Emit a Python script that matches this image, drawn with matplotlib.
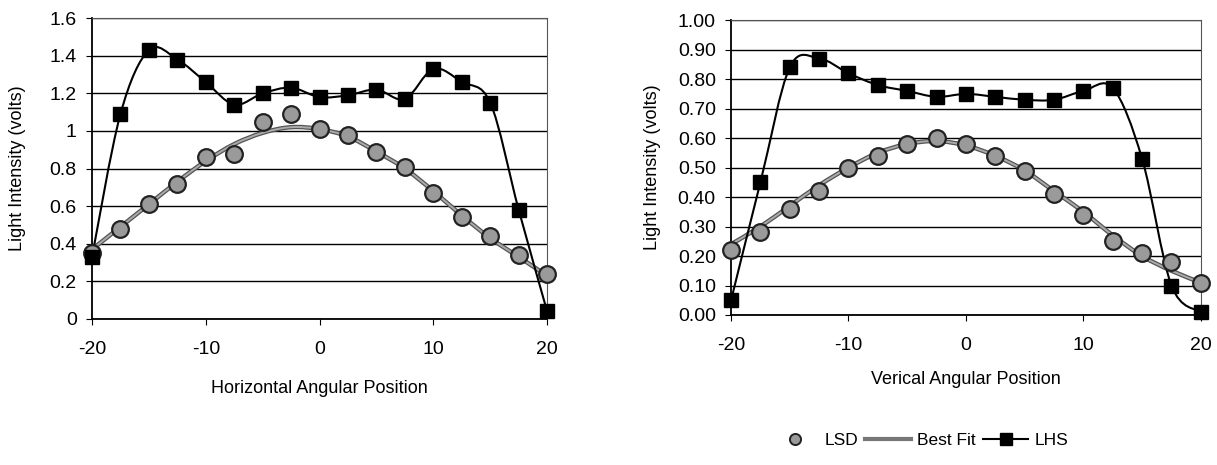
import numpy as np
import matplotlib.pyplot as plt
from matplotlib.path import Path
from matplotlib.patches import PathPatch
from matplotlib.lines import Line2D

plt.rcParams['font.family'] = ['Liberation Sans', 'DejaVu Sans']
plt.rcParams['axes.unicode_minus'] = False

# angular positions (degrees)
pos = [-20, -17.5, -15, -12.5, -10, -7.5, -5, -2.5, 0, 2.5, 5, 7.5, 10, 12.5, 15, 17.5, 20]

# horizontal scan
h_lhs = [0.33, 1.09, 1.43, 1.38, 1.26, 1.14, 1.20, 1.23, 1.18, 1.19, 1.22, 1.17, 1.33, 1.26, 1.15, 0.58, 0.04]
h_lsd = [0.35, 0.48, 0.61, 0.72, 0.86, 0.88, 1.05, 1.09, 1.01, 0.98, 0.89, 0.81, 0.67, 0.54, 0.44, 0.34, 0.24]
h_fit = [0.37, 0.49, 0.61, 0.73, 0.84, 0.93, 0.99, 1.02, 1.01, 0.97, 0.89, 0.80, 0.68, 0.55, 0.43, 0.33, 0.23]

# vertical scan
v_lhs = [0.05, 0.45, 0.84, 0.87, 0.82, 0.78, 0.76, 0.74, 0.75, 0.74, 0.73, 0.73, 0.76, 0.77, 0.53, 0.10, 0.01]
v_lsd = [0.22, 0.28, 0.36, 0.42, 0.50, 0.54, 0.58, 0.60, 0.58, 0.54, 0.49, 0.41, 0.34, 0.25, 0.21, 0.18, 0.11]
v_fit = [0.24, 0.30, 0.37, 0.44, 0.50, 0.55, 0.58, 0.59, 0.575, 0.54, 0.49, 0.42, 0.35, 0.27, 0.20, 0.15, 0.11]


def smooth_line(ax, x, y, **kw):
    # excel-style smoothed line: catmull-rom segments drawn as cubic beziers
    x = np.asarray(x, float)
    y = np.asarray(y, float)
    p = np.column_stack([x, y])
    n = len(p)
    verts = [p[0]]
    codes = [Path.MOVETO]
    for i in range(n - 1):
        p0 = p[i - 1] if i > 0 else p[i]
        p3 = p[i + 2] if i + 2 < n else p[i + 1]
        c1 = p[i] + (p[i + 1] - p0) / 6.0
        c2 = p[i + 1] - (p3 - p[i]) / 6.0
        verts += [c1, c2, p[i + 1]]
        codes += [Path.CURVE4] * 3
    patch = PathPatch(Path(verts, codes), facecolor='none', **kw)
    ax.add_patch(patch)


def panel(ax, lsd, fit, lhs, ymax, ystep, fmt, xlabel, ylabelpad, xlabelpad):
    ax.set_xlim(-20, 20)
    ax.set_ylim(0, ymax)
    ax.set_yticks(np.arange(0, ymax + ystep / 2, ystep))
    ax.yaxis.set_major_formatter(plt.FormatStrFormatter(fmt) if fmt else plt.FuncFormatter(lambda v, _: f'{v:g}'))
    ax.set_xticks([-20, -10, 0, 10, 20])
    ax.grid(axis='y', color='black', linewidth=1.0)
    ax.set_axisbelow(True)
    for s in ['top', 'right']:
        ax.spines[s].set_color('#555555')
    for s in ['left', 'bottom']:
        ax.spines[s].set_linewidth(1.3)
    ax.tick_params(axis='both', labelsize=14, length=4, direction='out', color='black')
    ax.tick_params(axis='x', pad=12)
    ax.tick_params(axis='y', pad=7)
    ax.set_ylabel('Light Intensity (volts)', fontsize=13, labelpad=ylabelpad)
    ax.set_xlabel(xlabel, fontsize=13, labelpad=xlabelpad)

    smooth_line(ax, pos, fit, edgecolor='#555555', linewidth=3.2, zorder=3)
    smooth_line(ax, pos, fit, edgecolor='#aaaaaa', linewidth=1.4, zorder=3)
    smooth_line(ax, pos, lhs, edgecolor='black', linewidth=1.5, zorder=4)
    ax.plot(pos, lsd, linestyle='none', marker='o', markersize=12,
            markerfacecolor='#9a9a9a', markeredgecolor='#222222', markeredgewidth=1.6,
            zorder=5, clip_on=False)
    ax.plot(pos, lhs, linestyle='none', marker='s', markersize=10,
            color='black', zorder=6, clip_on=False)


fig = plt.figure(figsize=(12.17, 4.65), dpi=100)
ax1 = fig.add_axes([0.0756, 0.314, 0.374, 0.647])
ax2 = fig.add_axes([0.6007, 0.3226, 0.386, 0.634])

panel(ax1, h_lsd, h_fit, h_lhs, 1.6, 0.2, None, 'Horizontal Angular Position', 17, 16)
panel(ax2, v_lsd, v_fit, v_lhs, 1.0, 0.1, '%.2f', 'Verical Angular Position', 12, 12)

handles = [
    Line2D([], [], linestyle='none', marker='o', markersize=8,
           markerfacecolor='#9a9a9a', markeredgecolor='#222222', markeredgewidth=1.4),
    Line2D([], [], color='#777777', linewidth=3),
    Line2D([], [], color='black', linewidth=1.5, marker='s', markersize=9),
]
fig.legend(handles, ['LSD', 'Best Fit', 'LHS'], loc='center left',
           bbox_to_anchor=(0.622, 0.053), ncol=3, frameon=False, fontsize=12.5,
           handlelength=2.6, columnspacing=0.4, handletextpad=0.4)

fig.savefig('out.png', dpi=100)
